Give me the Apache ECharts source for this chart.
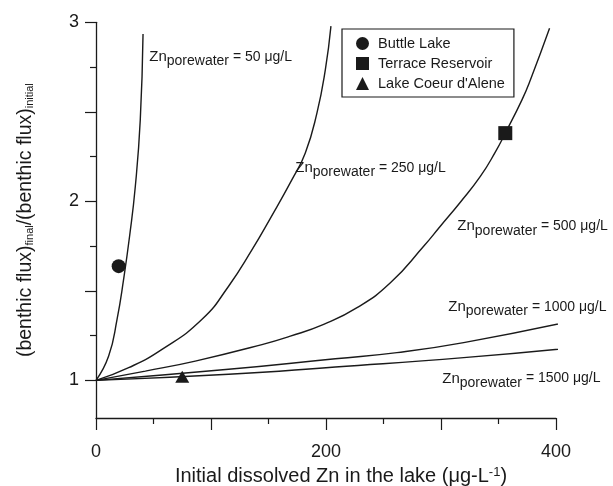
<!DOCTYPE html>
<html>
<head>
<meta charset="utf-8">
<script src="https://cdn.jsdelivr.net/npm/echarts@6/dist/echarts.min.js"></script>
<style>
  html, body { margin: 0; padding: 0; background: #fff; }
  #chart { width: 613px; height: 486px; }
</style>
</head>
<body>
<div id="chart"></div>
<script>
// curves: [initial Zn in lake, flux ratio]
const zn50 = [[0, 1], [11, 1.136], [18.3, 1.341], [24, 1.564], [29.2, 1.805], [34.2, 2.084], [38.5, 2.456], [40.9, 2.935]];
const zn250 = [[0, 1], [28.4, 1.071], [57.4, 1.173], [92.2, 1.341], [115.3, 1.526], [135.7, 1.73], [151.6, 1.905],
    [170.4, 2.121], [182, 2.27], [192.1, 2.493], [199.4, 2.734], [204.3, 2.979]];
const zn500 = [[0, 1], [42.9, 1.052], [86.3, 1.108], [144.3, 1.2], [169, 1.247], [198, 1.313], [227, 1.406], [256, 1.545],
    [284.9, 1.749], [299.4, 1.861], [316.8, 1.995], [334.2, 2.139], [347.2, 2.275], [355.9, 2.381], [370.4, 2.567],
    [377.7, 2.678], [394.4, 2.967]];
const zn1000 = [[0, 1], [115.3, 1.062], [208.1, 1.121], [261.7, 1.155], [319.7, 1.211], [415.3, 1.334]];
const zn1500 = [[0, 1], [115.3, 1.034], [208.1, 1.075], [319.7, 1.127], [415.3, 1.183]];

// porewater concentrations and where their labels sit (data coords)
const porewater = ['50', '250', '500', '1000', '1500'];
const labelAt = [[46.3, 2.795], [173.3, 2.177], [314.2, 1.85], [306.3, 1.4], [301.1, 1.0]];

// lakes
const lakes = ['Buttle Lake', 'Terrace Reservoir', "Lake Coeur d'Alene"];
const lakePoints = [[19.7, 1.638], [355.9, 2.381], [75, 1.02]];
const lakeSymbols = ['circle', 'rect', 'triangle'];

const xLabels = [0, 200, 400];
const yLabels = [1, 2, 3];
const yMajorTicks = [1, 1.5, 2, 2.5, 3];
const yMinorTicks = [1.25, 1.75, 2.25, 2.75];

const ink = '#1a1a1a';
const font = '"Liberation Sans", Arial, sans-serif';

const chart = echarts.init(document.getElementById('chart'), null, { renderer: 'canvas' });

const curves = [zn50, zn250, zn500, zn1000, zn1500];

const lineSeries = curves.map(function (d, i) {
    return {
        type: 'line',
        data: d,
        smooth: 0.5,
        showSymbol: false,
        symbol: 'none',
        clip: false,
        silent: true,
        lineStyle: { color: ink, width: 1.4 },
        markPoint: {
            symbol: 'circle',
            symbolSize: 0,
            silent: true,
            data: [{ coord: labelAt[i] }],
            label: {
                show: true,
                position: 'right',
                distance: 0,
                formatter: '{a|Zn}{b|porewater}{c| = ' + porewater[i] + ' \u03bcg/L}',
                rich: {
                    a: { fontFamily: font, fontSize: 15, color: ink, padding: [0, 0, 4, 0] },
                    b: { fontFamily: font, fontSize: 14, color: ink, padding: [5, 0, 0, 0] },
                    c: { fontFamily: font, fontSize: 14, color: ink, padding: [0, 0, 4, 0] }
                }
            }
        }
    };
});

const lakeSeries = lakes.map(function (name, i) {
    return {
        name: name,
        type: 'scatter',
        data: [lakePoints[i]],
        symbol: lakeSymbols[i],
        symbolSize: i === 2 ? [14, 12] : 14,
        itemStyle: { color: ink, opacity: 1 },
        clip: false,
        z: 5
    };
});

chart.setOption({
    animation: false,
    backgroundColor: '#fff',
    grid: { left: 96, right: 57, top: 22.3, bottom: 68, outerBoundsMode: 'none', containLabel: false },
    legend: {
        data: lakes,
        orient: 'vertical',
        left: 342,
        top: 29,
        padding: [7, 9, 6, 14],
        itemWidth: 13,
        itemHeight: 13,
        itemGap: 5,
        borderColor: ink,
        borderWidth: 1.2,
        borderRadius: 0,
        itemStyle: { opacity: 1 },
        textStyle: { fontFamily: font, fontSize: 14.5, lineHeight: 13, color: ink, padding: [0, 0, 0, 4] }
    },
    xAxis: {
        type: 'value',
        min: 0,
        max: 400,
        interval: 100,
        name: '{t|Initial dissolved Zn in the lake (\u03bcg-L}{s|-1}{t|)}',
        nameLocation: 'middle',
        nameGap: 40,
        nameTextStyle: {
            padding: [0, 0, 0, 30],
            rich: {
                t: { fontFamily: font, fontSize: 20, color: ink },
                s: { fontFamily: font, fontSize: 13, color: ink, padding: [0, 0, 9, 0] }
            }
        },
        axisLine: { lineStyle: { color: ink, width: 1.3 } },
        axisTick: { length: 12, lineStyle: { color: ink, width: 1.2 } },
        minorTick: { show: true, splitNumber: 2, length: 6, lineStyle: { color: ink, width: 1.2 } },
        axisLabel: {
            customValues: xLabels,
            margin: 25,
            fontFamily: font,
            fontSize: 18,
            color: ink
        },
        splitLine: { show: false }
    },
    yAxis: [{
        type: 'value',
        min: 0.79,
        max: 3,
        name: '{t|(benthic flux)}{s|final}{t|/(benthic flux)}{s|initial}',
        nameLocation: 'middle',
        nameRotate: 90,
        nameGap: 60,
        nameTextStyle: {
            rich: {
                t: { fontFamily: font, fontSize: 19.5, color: ink },
                s: { fontFamily: font, fontSize: 11, color: ink, padding: [7, 0, 0, 0] }
            }
        },
        axisLine: { show: true, lineStyle: { color: ink, width: 1.3 } },
        axisTick: { show: true, customValues: yMajorTicks, length: 11, lineStyle: { color: ink, width: 1.2 } },
        axisLabel: {
            customValues: yLabels,
            margin: 17,
            fontFamily: font,
            fontSize: 18,
            color: ink
        },
        splitLine: { show: false }
    }, {
        type: 'value',
        min: 0.79,
        max: 3,
        position: 'left',
        axisLine: { show: false },
        axisTick: { show: true, customValues: yMinorTicks, length: 6, lineStyle: { color: ink, width: 1.2 } },
        axisLabel: { show: false },
        splitLine: { show: false }
    }],
    series: lineSeries.concat(lakeSeries)
});
</script>
</body>
</html>
